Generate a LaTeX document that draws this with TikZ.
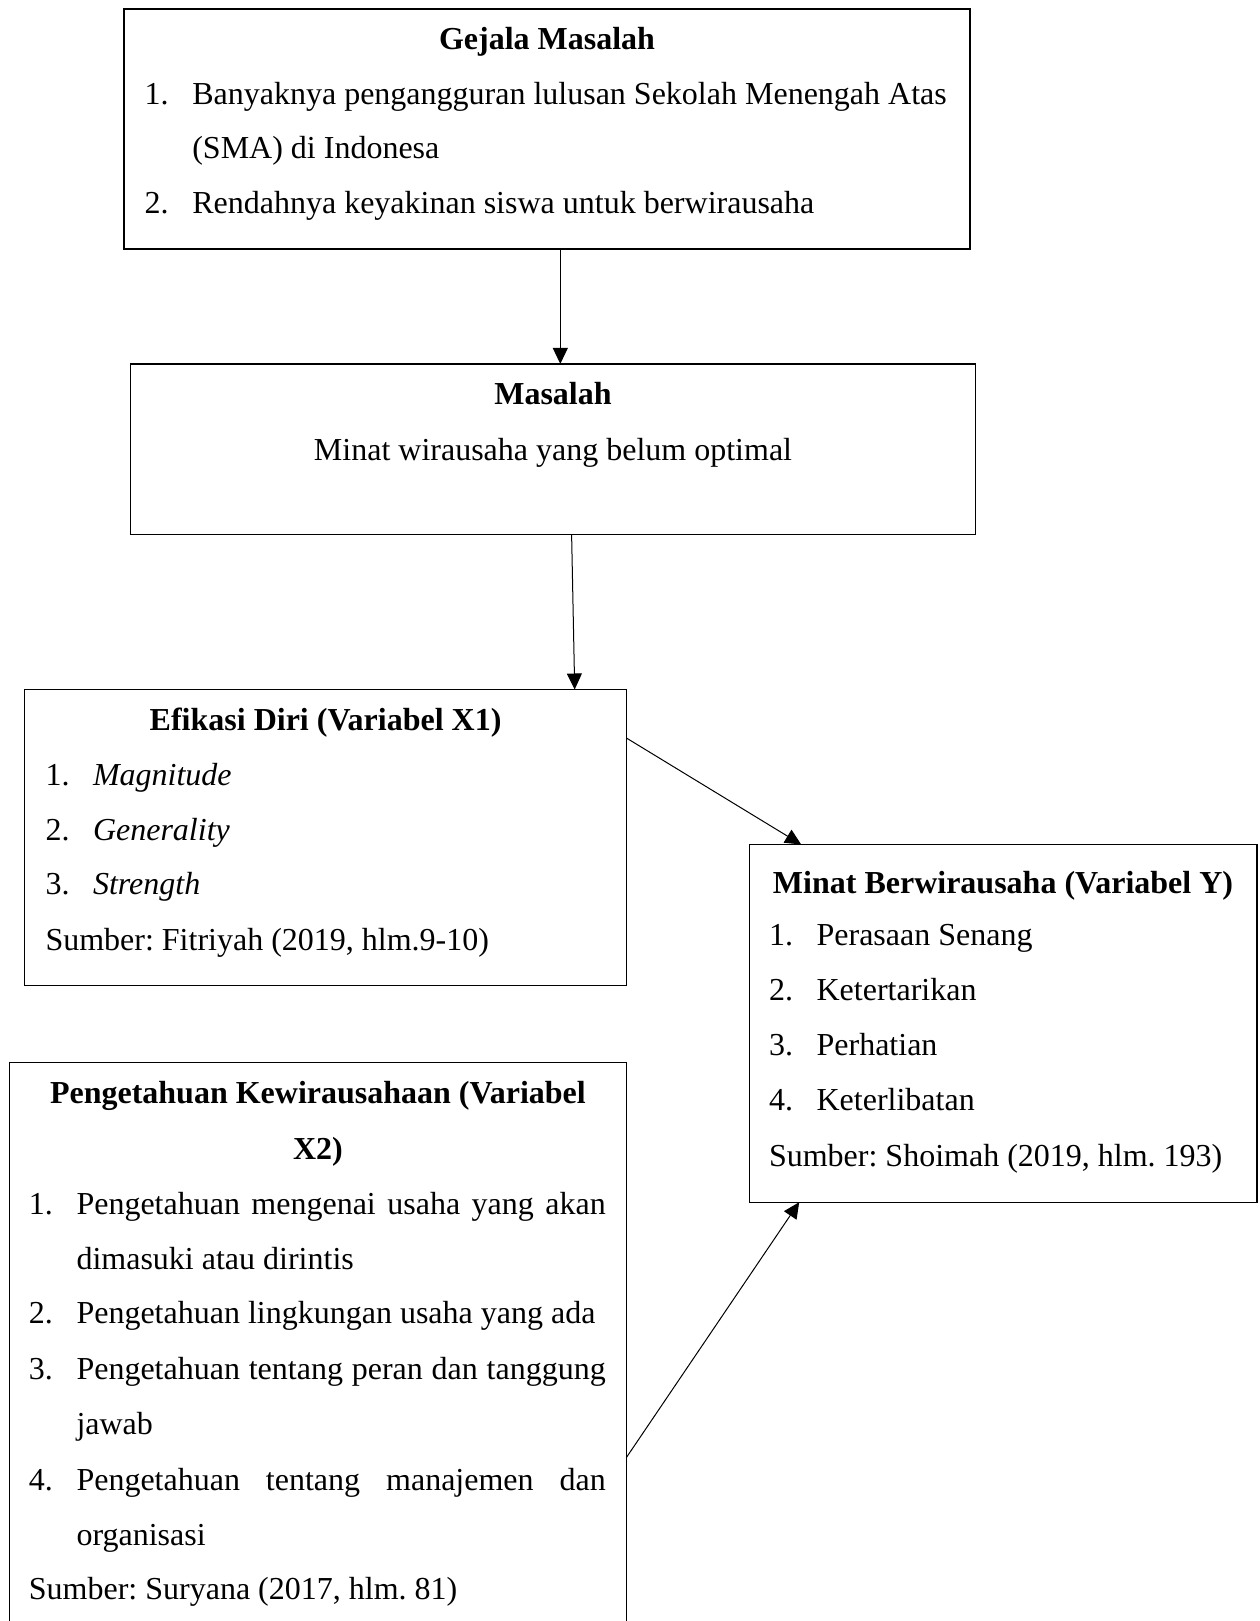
\documentclass[tikz,border=0pt]{standalone}
\usepackage{fontspec}
\setmainfont{Liberation Serif}
\usetikzlibrary{arrows.meta,calc}
\frenchspacing
\begin{document}
\begin{tikzpicture}[x=0.5pt,y=-0.5pt,
 box/.style={draw,line width=0.6pt,inner sep=0,outer sep=0},
 arr/.style={line width=0.5pt,-{Triangle[length=8pt,width=7.5pt]}},
 txt/.style={inner sep=0,outer sep=0,font=\fontsize{16pt}{19pt}\selectfont,anchor=base west},
 ttl/.style={inner sep=0,outer sep=0,font=\fontsize{16pt}{19pt}\selectfont\bfseries,anchor=base}]
\useasboundingbox (0,0) rectangle (1259,1621);

% boxes
\node[box,minimum width=423pt,minimum height=120pt] (g) at (547,129) {};
\node[box,minimum width=422.8pt,minimum height=85.25pt] (m) at (553,449.15) {};
\node[box,minimum width=300.8pt,minimum height=147.8pt] (xa) at (325.6,837.3) {};
\node[box,minimum width=253.8pt,minimum height=178.85pt] (y) at (1003.2,1023.35) {};
\node[box,minimum width=308.55pt,minimum height=288.7pt] (xb) at (317.85,1351.3) {};

% Gejala Masalah
\node[ttl] (gt) at (547,49.3) {Gejala Masalah};
\node[txt] (g1n) at (144.7,104.1) {1.};
\node[txt] (g1a) at (192.3,104.1) {Banyaknya pengangguran lulusan Sekolah Menengah Atas};
\node[txt] (g1b) at (192.3,158.9) {(SMA) di Indonesa};
\node[txt] (g2n) at (144.7,213.6) {2.};
\node[txt] (g2a) at (192.3,213.6) {Rendahnya keyakinan siswa untuk berwirausaha};

% Masalah
\node[ttl] (mt) at (553,404.9) {Masalah};
\node[txt,anchor=base] (m1) at (553,460.7) {Minat wirausaha yang belum optimal};

% Efikasi Diri
\node[ttl] (xat) at (325.6,730.5) {Efikasi Diri (Variabel X1)};
\node[txt] (xa1n) at (45.5,785.3) {1.};
\node[txt] (xa1) at (93,785.3) {\itshape Magnitude};
\node[txt] (xa2n) at (45.5,840.1) {2.};
\node[txt] (xa2) at (93,840.1) {\itshape Generality};
\node[txt] (xa3n) at (45.5,894.8) {3.};
\node[txt] (xa3) at (93,894.8) {\itshape Strength};
\node[txt] (xas) at (45.5,950.7) {Sumber: Fitriyah (2019, hlm.9-10)};

% Minat Berwirausaha
\node[ttl] (yt) at (1003,893.8) {Minat Berwirausaha (Variabel Y)};
\node[txt] (y1n) at (769,945.5) {1.};
\node[txt] (y1) at (816.6,945.5) {Perasaan Senang};
\node[txt] (y2n) at (769,1000.3) {2.};
\node[txt] (y2) at (816.6,1000.3) {Ketertarikan};
\node[txt] (y3n) at (769,1055.1) {3.};
\node[txt] (y3) at (816.6,1055.1) {Perhatian};
\node[txt] (y4n) at (769,1110.9) {4.};
\node[txt] (y4) at (816.6,1110.9) {Keterlibatan};
\node[txt] (ys) at (769,1166.7) {Sumber: Shoimah (2019, hlm. 193)};

% Pengetahuan Kewirausahaan
\node[ttl] (xbt) at (317.9,1103.7) {Pengetahuan Kewirausahaan (Variabel};
\node[ttl] (xbt2) at (317.9,1159.5) {X2)};
\node[txt] (xb1n) at (28.9,1214.3) {1.};
\node[txt] (xb1a) at (76.5,1214.3) {\makebox[264.65pt][l]{Pengetahuan\hfill mengenai\hfill usaha\hfill yang\hfill akan}};
\node[txt] (xb1b) at (76.5,1269) {dimasuki atau dirintis};
\node[txt] (xb2n) at (28.9,1323.8) {2.};
\node[txt] (xb2) at (76.5,1323.8) {Pengetahuan lingkungan usaha yang ada};
\node[txt] (xb3n) at (28.9,1379.7) {3.};
\node[txt] (xb3a) at (76.5,1379.7) {\makebox[264.65pt][l]{Pengetahuan\hfill tentang\hfill peran\hfill dan\hfill tanggung}};
\node[txt] (xb3b) at (76.5,1434.4) {jawab};
\node[txt] (xb4n) at (28.9,1490.3) {4.};
\node[txt] (xb4a) at (76.5,1490.3) {\makebox[264.65pt][l]{Pengetahuan\hfill tentang\hfill manajemen\hfill dan}};
\node[txt] (xb4b) at (76.5,1545) {organisasi};
\node[txt] (xbs) at (28.9,1599.8) {Sumber: Suryana (2017, hlm. 81)};

% connectors
\draw[arr] ([xshift=6.65pt]g.south) -- ([xshift=6.65pt]g.south |- m.north);
\draw[arr] ([xshift=9.3pt]m.south) -- ([xshift=124.55pt]xa.north);
\draw[arr] ([yshift=49.65pt]xa.east) -- ([xshift=-101pt]y.north);
\draw[arr] ([yshift=-197.45pt]xb.north east) -- ([xshift=-102pt]y.south);
\end{tikzpicture}
\end{document}
